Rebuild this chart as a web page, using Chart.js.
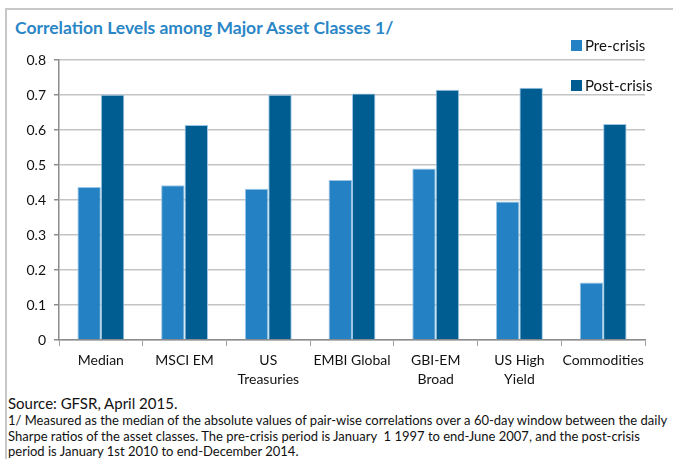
<!DOCTYPE html>
<html>
<head>
<meta charset="utf-8">
<script src="https://cdn.jsdelivr.net/npm/chart.js@4.4.1/dist/chart.umd.min.js"></script>
<style>
  html, body { margin: 0; padding: 0; background: #fff; }
  body { width: 673px; height: 459px; position: relative; overflow: hidden; font-family: Lato, "Noto Sans", sans-serif; }
  .frame { position: absolute; left: 5px; top: 8px; width: 700px; height: 500px; border-top: 2px solid #c8c8c8; border-left: 2px solid #c8c8c8; }
  .title { position: absolute; left: 15px; top: 17px; font-size: 17.5px; font-weight: bold; color: #2a86c6; }
  #chartWrap { position: absolute; left: 0; top: 0; width: 673px; height: 392px; }
  .legend { position: absolute; left: 571px; top: 36px; font-size: 15px; color: #111; }
  .legend-item { position: relative; height: 40px; line-height: 18px; padding-left: 14px; }
  .legend-box { position: absolute; left: 0; top: 4px; width: 11px; height: 11px; }
  .notes { position: absolute; left: 8px; top: 394px; font-size: 13px; color: #111; line-height: 15.5px; }
  .notes .src { font-size: 15px; line-height: 19px; }
</style>
</head>
<body>
<div class="frame"></div>
<div class="title">Correlation Levels among Major Asset Classes 1/</div>
<div id="chartWrap"><canvas id="corrChart" width="673" height="392"></canvas></div>
<div class="legend" id="legend"></div>
<div class="notes">
  <div class="src">Source: GFSR, April 2015.</div>
  <div>1/ Measured as the median of the absolute values of pair-wise correlations over a 60-day window between the daily<br>Sharpe ratios of the asset classes. The pre-crisis period is January&nbsp; 1 1997 to end-June 2007, and the post-crisis<br>period is January 1st 2010 to end-December 2014.</div>
</div>
<script>
// data
const categories = ['Median', 'MSCI EM', ['US', 'Treasuries'], 'EMBI Global', ['GBI-EM', 'Broad'], ['US High', 'Yield'], 'Commodities'];
const preCrisis = [0.437, 0.442, 0.432, 0.457, 0.490, 0.396, 0.164];
const postCrisis = [0.701, 0.614, 0.701, 0.704, 0.715, 0.721, 0.617];
const yTicks = [0, 0.1, 0.2, 0.3, 0.4, 0.5, 0.6, 0.7, 0.8];

const seriesColors = { pre: '#2481c3', post: '#005d92' };

const datasets = [
    { label: 'Pre-crisis', data: preCrisis, backgroundColor: seriesColors.pre },
    { label: 'Post-crisis', data: postCrisis, backgroundColor: seriesColors.post }
].map(d => Object.assign(d, { borderColor: '#9cc6e4', borderWidth: 1, barPercentage: 1, categoryPercentage: 0.56 }));

// legend as html, built from the datasets
const legendEl = document.getElementById('legend');
datasets.forEach(d => {
    const item = document.createElement('div');
    item.className = 'legend-item';
    item.innerHTML = `<span class="legend-box" style="background:${d.backgroundColor}"></span>${d.label}`;
    legendEl.appendChild(item);
});

const tickFont = { family: 'Lato, "Noto Sans", sans-serif', size: 14, lineHeight: 1.35 };

new Chart(document.getElementById('corrChart'), {
    type: 'bar',
    data: { labels: categories, datasets: datasets },
    options: {
        responsive: false,
        animation: false,
        layout: { padding: { left: 0, right: 28, top: 60, bottom: 0 } },
        plugins: { legend: { display: false }, tooltip: { enabled: false } },
        scales: {
            x: {
                grid: { drawOnChartArea: false, drawTicks: true, tickLength: 6, color: '#a0a0a0', offset: true },
                border: { color: '#8c8c8c', width: 1.5 },
                ticks: { color: '#111', font: tickFont, padding: 5, maxRotation: 0, autoSkip: false },
                afterFit: s => { s.height = 52; }
            },
            y: {
                min: 0,
                max: 0.8,
                afterBuildTicks: s => { s.ticks = yTicks.map(v => ({ value: v })); },
                grid: { color: '#c4c4c4', lineWidth: 1.5, tickLength: 5, tickColor: '#8c8c8c' },
                border: { color: '#8c8c8c', width: 1.5 },
                ticks: { color: '#111', font: tickFont, padding: 8, callback: v => (v === 0 ? '0' : v.toFixed(1)) },
                afterFit: s => { s.width = 59; }
            }
        }
    }
});
</script>
</body>
</html>
